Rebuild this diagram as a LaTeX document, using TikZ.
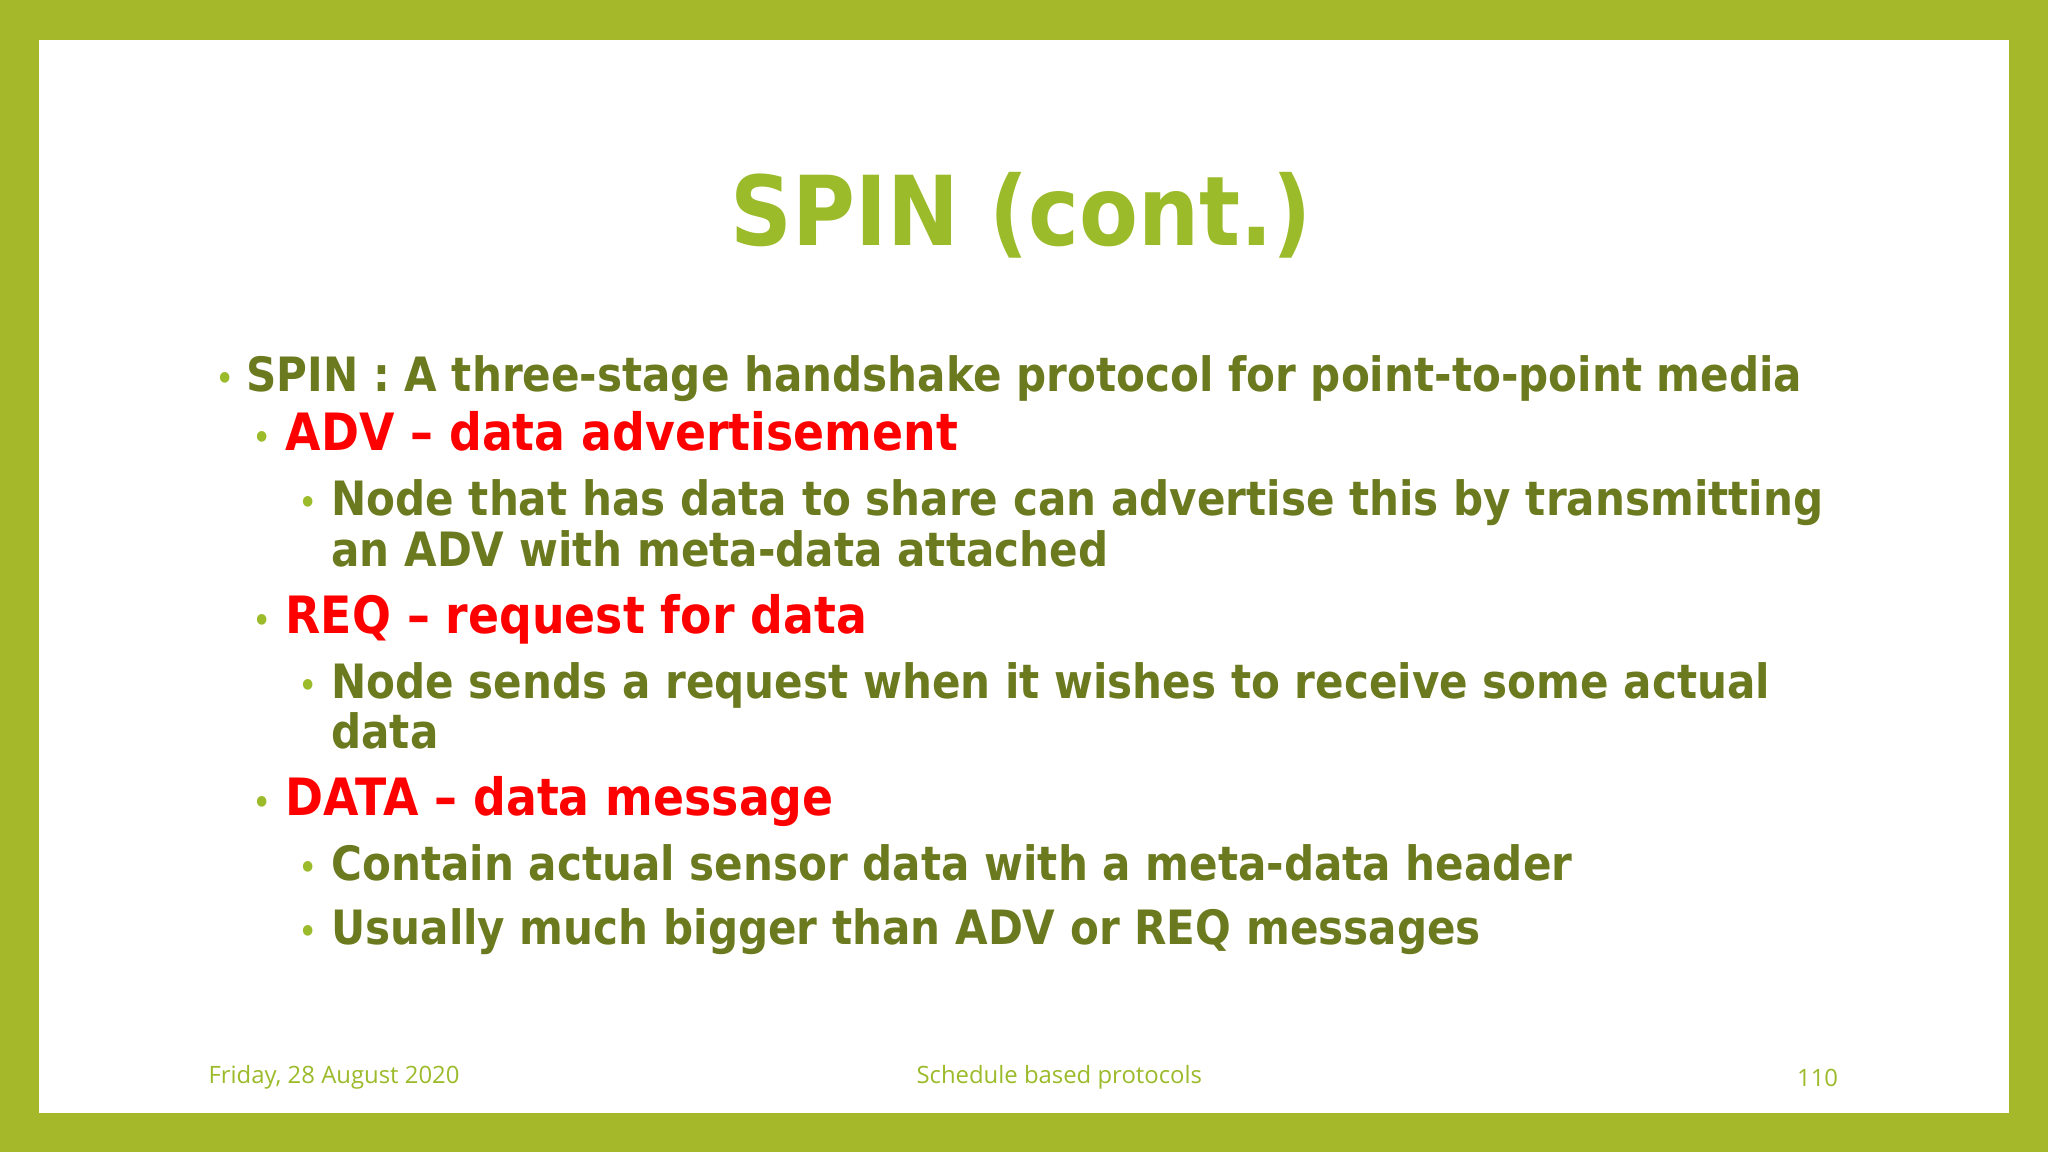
\documentclass[tikz,border=0pt]{standalone}
\usepackage{fontspec}
\setmainfont[FakeStretch=0.89]{DejaVu Sans}
\newfontfamily\footfont{Open Sans}
\definecolor{frame}{HTML}{A5B82A}
\definecolor{ttl}{HTML}{9CBB2A}
\definecolor{body}{HTML}{6B7A1F}
\definecolor{bul}{HTML}{9CBB2A}
\definecolor{redt}{HTML}{FF0000}
\tikzset{
 lv/.style={anchor=base west,inner sep=0pt,font=\bfseries\fontsize{10.3}{12}\selectfont,text=body},
 lr/.style={anchor=base west,inner sep=0pt,font=\bfseries\fontsize{11.2}{13}\selectfont,text=redt},
 bl/.style={anchor=base,inner sep=0pt,font=\fontsize{8}{9}\selectfont,text=bul},
 ft/.style={inner sep=0pt,font=\footfont\fontsize{5.2}{6}\selectfont,text=ttl}
}
\begin{document}
\begin{tikzpicture}[x=0.01cm,y=-0.01cm]
\useasboundingbox (0,0) rectangle (1568,882);
\fill[frame] (0,0) rectangle (1568,882);
\fill[white] (30,31) rectangle (1538,852);
\node[inner sep=0pt,font=\bfseries\fontsize{21}{25}\selectfont,text=ttl] (title) at (782,165) {SPIN (cont.)};
\node[bl] (b1) at (172,300) {•};
\node[lv] (t1) at (188,300) {SPIN : A three-stage handshake protocol for point-to-point media};
\node[bl] (b2) at (201,345) {•};
\node[lr] (t2) at (218,345) {ADV – data advertisement};
\node[bl] (b3) at (236,395) {•};
\node[lv] (t3) at (253,395) {Node that has data to share can advertise this by transmitting};
\node[lv] (t3b) at (253,434) {an ADV with meta-data attached};
\node[bl] (b4) at (201,485) {•};
\node[lr] (t4) at (218,485) {REQ – request for data};
\node[bl] (b5) at (236,535) {•};
\node[lv] (t5) at (253,535) {Node sends a request when it wishes to receive some actual};
\node[lv] (t5b) at (253,573) {data};
\node[bl] (b6) at (201,624) {•};
\node[lr] (t6) at (218,624) {DATA – data message};
\node[bl] (b7) at (236,674) {•};
\node[lv] (t7) at (253,674) {Contain actual sensor data with a meta-data header};
\node[bl] (b8) at (236,723) {•};
\node[lv] (t8) at (253,723) {Usually much bigger than ADV or REQ messages};
\node[ft,anchor=west] (f1) at (159,825) {Friday, 28 August 2020};
\node[ft] (f2) at (811,825) {Schedule based protocols};
\node[ft,anchor=east] (f3) at (1408,825) {110};
\end{tikzpicture}
\end{document}
